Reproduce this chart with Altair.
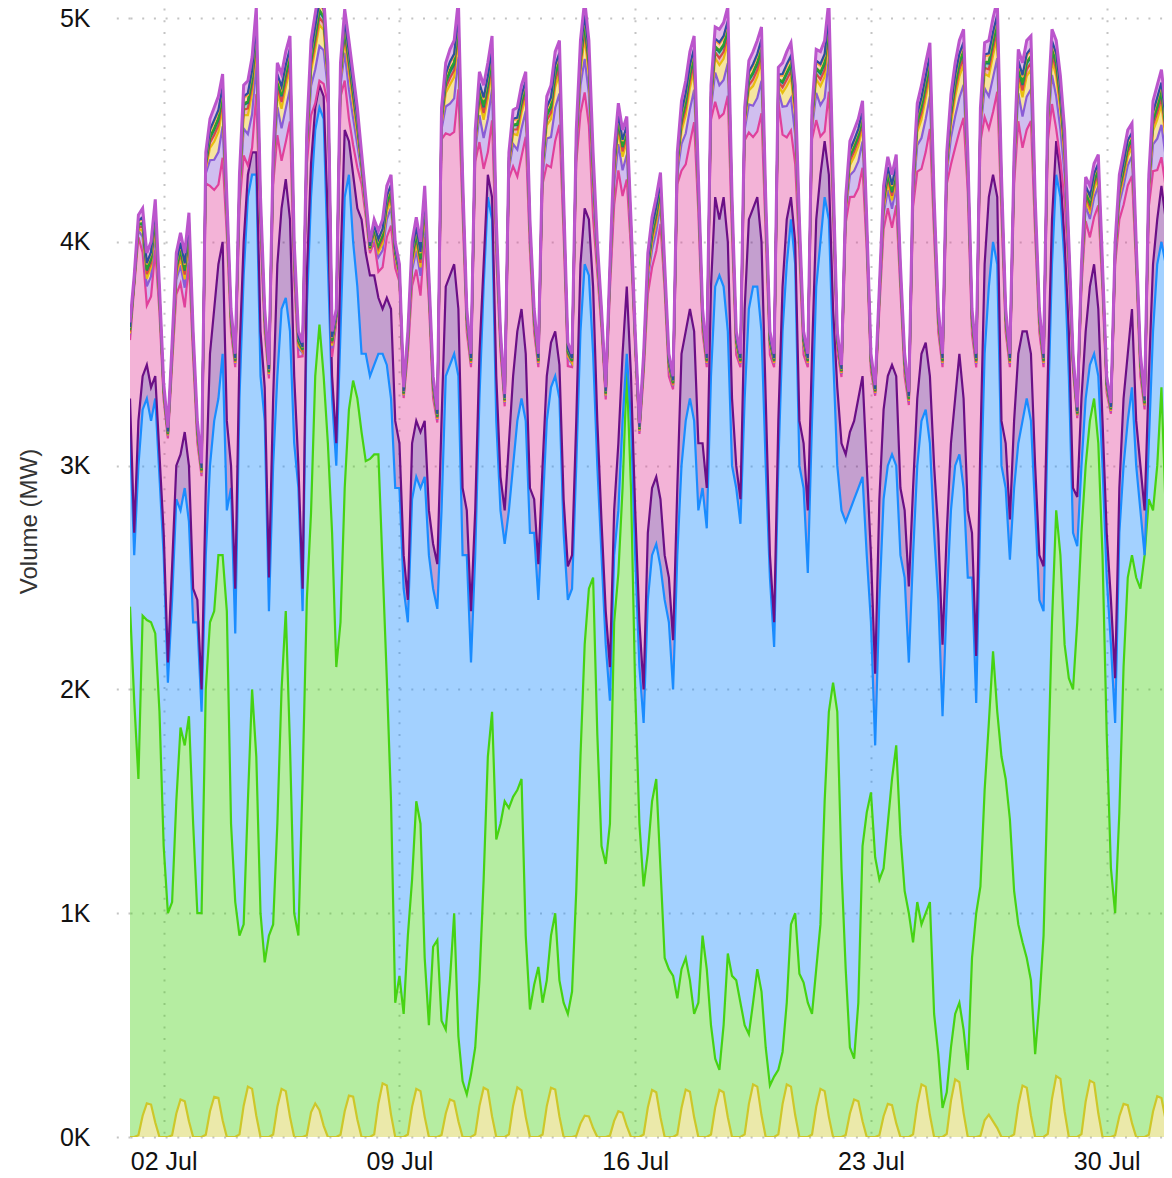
import altair as alt
import pandas as pd
import numpy as np

# Readings every 3 hours (00,03,06,09,12,15,18,21 h), 1-31 July.
# Cumulative levels (thousand MW) of the stack boundaries.
top_k = [
    3.64, 3.85, 4.12, 4.15, 3.95, 4.00, 4.19, 3.80,
    3.37, 3.17, 3.55, 3.95, 4.04, 3.95, 4.13, 3.60,
    3.20, 3.01, 4.40, 4.55, 4.60, 4.65, 4.75, 4.20,
    3.70, 3.50, 4.30, 4.70, 4.72, 4.70, 5.05, 4.20,
    3.70, 3.45, 4.40, 4.80, 4.75, 4.85, 4.92, 4.00,
    3.60, 3.55, 4.50, 4.90, 5.00, 5.10, 5.10, 4.80,
    3.60, 3.70, 4.80, 5.04, 4.90, 4.75, 4.60, 4.40,
    4.20, 4.00, 4.10, 4.05, 4.10, 4.25, 4.30, 4.00,
    3.90, 3.35, 3.60, 4.00, 4.11, 4.00, 4.25, 3.85,
    3.40, 3.25, 4.60, 4.80, 4.86, 4.90, 5.08, 4.30,
    3.70, 3.50, 4.50, 4.76, 4.70, 4.80, 4.92, 4.10,
    3.60, 3.32, 4.40, 4.59, 4.60, 4.70, 4.76, 4.10,
    3.70, 3.50, 4.40, 4.65, 4.70, 4.85, 4.90, 4.20,
    3.55, 3.50, 4.50, 4.90, 5.08, 4.90, 4.40, 4.00,
    3.70, 3.35, 3.90, 4.41, 4.62, 4.50, 4.56, 4.10,
    3.60, 3.19, 3.50, 3.95, 4.11, 4.20, 4.31, 3.90,
    3.50, 3.40, 4.40, 4.63, 4.72, 4.85, 4.92, 4.30,
    3.70, 3.50, 4.70, 4.96, 4.95, 4.98, 5.05, 4.20,
    3.60, 3.50, 4.60, 4.81, 4.85, 4.90, 4.96, 4.20,
    3.60, 3.50, 4.78, 4.80, 4.85, 4.89, 4.70, 4.10,
    3.60, 3.50, 4.60, 4.86, 4.85, 4.90, 5.08, 4.30,
    3.60, 3.45, 4.20, 4.45, 4.50, 4.55, 4.63, 4.10,
    3.50, 3.36, 3.80, 4.25, 4.38, 4.30, 4.39, 3.90,
    3.50, 3.33, 4.30, 4.62, 4.70, 4.80, 4.89, 4.20,
    3.70, 3.50, 4.40, 4.66, 4.80, 4.90, 4.95, 4.40,
    3.70, 3.50, 4.60, 4.89, 4.90, 5.00, 5.08, 4.30,
    3.70, 3.50, 4.40, 4.86, 4.80, 4.90, 4.92, 4.20,
    3.70, 3.50, 4.60, 4.95, 4.90, 4.74, 4.50, 4.00,
    3.50, 3.26, 3.90, 4.29, 4.25, 4.35, 4.39, 3.90,
    3.40, 3.28, 4.00, 4.30, 4.40, 4.50, 4.53, 4.00,
    3.50, 3.31, 4.30, 4.63, 4.70, 4.77, 4.60, 4.30,
]
purple_k = [
    3.30, 2.70, 3.20, 3.40, 3.45, 3.35, 3.40, 3.05,
    2.70, 2.12, 2.55, 3.00, 3.05, 3.15, 3.00, 2.45,
    2.40, 2.00, 2.90, 3.50, 3.70, 3.90, 4.00, 3.20,
    3.00, 2.45, 3.50, 4.00, 4.30, 4.40, 4.40, 3.60,
    3.35, 2.50, 3.30, 3.90, 4.15, 4.28, 4.10, 3.40,
    3.00, 2.45, 3.85, 4.35, 4.60, 4.70, 4.65, 4.10,
    3.40, 3.10, 3.90, 4.50, 4.45, 4.30, 4.15, 4.10,
    3.95, 3.85, 3.85, 3.75, 3.70, 3.75, 3.70, 3.20,
    3.10, 2.60, 2.40, 3.10, 3.20, 3.15, 3.20, 2.80,
    2.65, 2.56, 3.20, 3.80, 3.85, 3.90, 3.70, 2.90,
    2.80, 2.35, 2.80, 3.50, 3.90, 4.30, 4.20, 3.40,
    2.95, 2.80, 3.10, 3.40, 3.60, 3.70, 3.50, 2.90,
    2.85, 2.56, 3.00, 3.40, 3.55, 3.60, 3.45, 2.85,
    2.55, 2.60, 3.20, 3.90, 4.15, 4.10, 3.80, 3.20,
    2.75, 2.35, 2.10, 2.80, 3.10, 3.50, 3.80, 3.40,
    2.80, 2.30, 2.00, 2.70, 2.90, 2.95, 2.85, 2.60,
    2.50, 2.22, 2.90, 3.50, 3.60, 3.70, 3.60, 3.10,
    3.10, 2.90, 3.80, 4.20, 4.10, 4.20, 4.00, 3.30,
    3.00, 2.85, 3.70, 4.10, 4.15, 4.20, 4.00, 3.30,
    2.60, 2.30, 3.20, 3.80, 4.10, 4.20, 4.00, 3.20,
    3.10, 2.80, 3.50, 4.10, 4.30, 4.45, 4.30, 3.70,
    3.35, 3.10, 3.05, 3.15, 3.20, 3.30, 3.40, 3.00,
    2.60, 2.07, 2.85, 3.25, 3.40, 3.45, 3.40, 2.90,
    2.80, 2.46, 2.90, 3.30, 3.50, 3.55, 3.40, 3.00,
    2.70, 2.20, 2.70, 3.10, 3.30, 3.50, 3.30, 2.80,
    2.70, 2.15, 3.10, 3.90, 4.20, 4.30, 4.20, 3.20,
    3.10, 2.76, 3.20, 3.50, 3.60, 3.60, 3.50, 3.00,
    2.60, 2.55, 3.40, 4.10, 4.45, 4.30, 4.00, 3.60,
    2.90, 2.86, 3.30, 3.60, 3.80, 3.90, 3.70, 3.20,
    2.70, 2.40, 2.05, 2.90, 3.30, 3.50, 3.70, 3.20,
    3.00, 2.80, 3.40, 3.90, 4.10, 4.25, 4.10, 3.80,
]
blue_k = [
    3.15, 2.60, 3.00, 3.25, 3.30, 3.20, 3.30, 2.95,
    2.60, 2.03, 2.40, 2.85, 2.80, 2.90, 2.75, 2.30,
    2.30, 1.90, 2.60, 3.00, 3.20, 3.30, 3.50, 2.80,
    2.90, 2.25, 3.30, 3.85, 4.20, 4.30, 4.30, 3.40,
    3.20, 2.35, 3.00, 3.40, 3.70, 3.75, 3.60, 3.10,
    2.90, 2.35, 3.70, 4.20, 4.50, 4.60, 4.55, 3.90,
    3.30, 3.00, 3.60, 4.20, 4.30, 4.00, 3.80, 3.50,
    3.50, 3.40, 3.45, 3.50, 3.50, 3.45, 3.30, 2.90,
    2.90, 2.45, 2.30, 2.85, 2.95, 2.90, 2.95, 2.60,
    2.45, 2.36, 2.80, 3.40, 3.45, 3.50, 3.40, 2.60,
    2.60, 2.12, 2.60, 3.30, 3.80, 4.20, 4.10, 3.20,
    2.80, 2.65, 2.80, 3.00, 3.20, 3.30, 3.20, 2.70,
    2.70, 2.40, 2.80, 3.20, 3.35, 3.40, 3.30, 2.70,
    2.40, 2.45, 3.00, 3.60, 3.90, 3.85, 3.50, 3.00,
    2.60, 2.20, 1.95, 2.60, 2.80, 3.20, 3.50, 3.20,
    2.60, 2.10, 1.85, 2.40, 2.60, 2.65, 2.55, 2.40,
    2.30, 2.00, 2.60, 3.00, 3.20, 3.30, 3.20, 2.80,
    2.90, 2.72, 3.40, 3.80, 3.85, 3.80, 3.60, 3.00,
    2.90, 2.74, 3.30, 3.70, 3.80, 3.80, 3.60, 3.00,
    2.50, 2.19, 3.00, 3.60, 3.90, 4.10, 3.90, 3.00,
    2.90, 2.52, 3.20, 3.80, 4.00, 4.20, 4.10, 3.50,
    3.00, 2.80, 2.75, 2.80, 2.85, 2.90, 2.95, 2.60,
    2.30, 1.75, 2.40, 2.85, 3.00, 3.05, 3.00, 2.60,
    2.50, 2.12, 2.60, 3.00, 3.20, 3.25, 3.10, 2.70,
    2.40, 1.88, 2.40, 2.80, 3.00, 3.05, 2.90, 2.50,
    2.50, 1.94, 2.80, 3.50, 3.80, 4.00, 3.90, 3.00,
    2.90, 2.58, 2.90, 3.10, 3.20, 3.30, 3.20, 2.80,
    2.40, 2.35, 3.20, 3.90, 4.30, 4.20, 3.90, 3.40,
    2.70, 2.64, 3.00, 3.30, 3.45, 3.50, 3.40, 3.00,
    2.50, 2.20, 1.85, 2.70, 3.00, 3.20, 3.35, 3.00,
    2.80, 2.59, 3.10, 3.60, 3.90, 4.00, 3.90, 3.60,
]
wind_k = [
    2.37, 1.95, 1.60, 2.33, 2.31, 2.30, 2.25, 1.90,
    1.30, 1.00, 1.05, 1.50, 1.83, 1.75, 1.88, 1.40,
    1.00, 1.00, 2.00, 2.30, 2.35, 2.60, 2.60, 2.35,
    1.40, 1.05, 0.90, 0.95, 1.50, 2.00, 1.70, 1.00,
    0.78, 0.90, 0.95, 1.40, 2.00, 2.35, 1.75, 1.00,
    0.90, 1.60, 2.40, 2.79, 3.40, 3.63, 3.40, 3.10,
    2.70, 2.10, 2.30, 2.90, 3.25, 3.38, 3.30, 3.15,
    3.02, 3.03, 3.05, 3.05, 2.55, 2.05, 1.50, 0.60,
    0.72, 0.55, 0.90, 1.15, 1.50, 1.40, 0.80, 0.50,
    0.85, 0.88, 0.52, 0.48, 0.70, 1.00, 0.45, 0.25,
    0.19, 0.28, 0.40, 0.70, 1.15, 1.70, 1.90, 1.33,
    1.40, 1.50, 1.47, 1.52, 1.55, 1.60, 0.90, 0.57,
    0.68, 0.76, 0.60, 0.70, 0.90, 1.00, 0.70, 0.60,
    0.55, 0.65, 1.10, 1.70, 2.20, 2.45, 2.50, 1.80,
    1.30, 1.22, 1.40, 2.30, 2.52, 2.90, 3.42, 2.90,
    2.00, 1.40, 1.12, 1.27, 1.50, 1.60, 1.20, 0.80,
    0.75, 0.72, 0.62, 0.75, 0.80, 0.70, 0.55, 0.60,
    0.90, 0.75, 0.50, 0.35, 0.30, 0.50, 0.82, 0.72,
    0.70, 0.60, 0.50, 0.46, 0.60, 0.75, 0.65, 0.40,
    0.23, 0.27, 0.30, 0.38, 0.60, 0.95, 1.00, 0.73,
    0.69, 0.60, 0.55, 0.75, 0.95, 1.50, 1.90, 2.03,
    1.90, 1.20, 0.75, 0.40, 0.35, 0.60, 1.30, 1.45,
    1.54, 1.25, 1.15, 1.20, 1.40, 1.60, 1.75, 1.35,
    1.10, 1.00, 0.87, 1.05, 0.95, 1.00, 1.05, 0.55,
    0.37, 0.13, 0.20, 0.40, 0.55, 0.60, 0.48, 0.30,
    0.80, 1.00, 1.12, 1.55, 1.85, 2.17, 1.90, 1.70,
    1.60, 1.42, 1.10, 0.95, 0.87, 0.80, 0.70, 0.37,
    0.60, 0.90, 1.60, 2.30, 2.80, 2.60, 2.20, 2.05,
    2.00, 2.30, 2.70, 3.00, 3.20, 3.30, 3.10, 2.60,
    1.80, 1.20, 1.00, 1.45, 2.10, 2.50, 2.60, 2.50,
    2.45, 2.60, 2.85, 2.80, 3.00, 3.35, 2.80, 1.90,
]
# Solar output (MW)
solar_mw = [
    0, 0, 8, 95, 150, 145, 65, 0,
    0, 0, 8, 105, 168, 160, 70, 0,
    0, 0, 10, 115, 180, 175, 75, 0,
    0, 0, 12, 140, 225, 215, 95, 0,
    0, 0, 11, 135, 215, 205, 90, 0,
    0, 0, 8, 110, 150, 120, 50, 0,
    0, 0, 10, 115, 185, 180, 78, 0,
    0, 0, 12, 150, 240, 230, 100, 0,
    0, 0, 11, 135, 215, 205, 90, 0,
    0, 0, 9, 105, 168, 160, 70, 0,
    0, 0, 12, 138, 220, 210, 92, 0,
    0, 0, 12, 140, 222, 208, 90, 0,
    0, 0, 11, 138, 220, 212, 92, 0,
    0, 0, 5, 60, 95, 92, 40, 0,
    0, 0, 6, 72, 115, 108, 48, 0,
    0, 0, 11, 132, 210, 200, 88, 0,
    0, 0, 11, 130, 212, 202, 88, 0,
    0, 0, 11, 132, 210, 200, 88, 0,
    0, 0, 12, 147, 235, 225, 98, 0,
    0, 0, 12, 147, 235, 225, 98, 0,
    0, 0, 11, 135, 215, 205, 90, 0,
    0, 0, 9, 105, 168, 160, 70, 0,
    0, 0, 8, 93, 148, 142, 62, 0,
    0, 0, 12, 147, 235, 225, 98, 0,
    0, 0, 14, 162, 258, 245, 108, 0,
    0, 0, 5, 75, 100, 70, 40, 0,
    0, 0, 12, 144, 230, 220, 96, 0,
    0, 0, 14, 171, 272, 260, 114, 0,
    0, 0, 13, 159, 252, 242, 106, 0,
    0, 0, 8, 93, 148, 142, 62, 0,
    0, 0, 10, 114, 182, 174, 76, 0,
]
# Thin layers near the top of the stack (MW)
lpurple_mw = [
    25, 10, 30, 70, 85, 90, 85, 40,   22, 10, 28, 65, 80, 88, 82, 38,
    30, 12, 45, 115, 135, 145, 140, 60,   35, 15, 45, 120, 140, 150, 140, 60,
    35, 15, 48, 125, 145, 150, 145, 58,   38, 15, 50, 130, 150, 155, 150, 65,
    38, 18, 50, 125, 130, 120, 100, 50,   30, 12, 30, 65, 75, 80, 80, 40,
    25, 10, 28, 70, 85, 88, 85, 40,   30, 12, 45, 120, 140, 150, 145, 60,
    35, 15, 45, 120, 138, 148, 140, 60,   30, 15, 40, 100, 120, 125, 115, 50,
    35, 15, 45, 118, 135, 148, 140, 58,   35, 15, 48, 125, 150, 140, 110, 50,
    30, 14, 35, 95, 118, 115, 110, 48,   25, 10, 25, 65, 80, 88, 85, 40,
    32, 14, 45, 120, 138, 150, 145, 60,   35, 15, 50, 130, 145, 150, 145, 60,
    35, 15, 48, 125, 140, 150, 145, 60,   35, 15, 50, 125, 140, 145, 130, 55,
    35, 15, 45, 122, 140, 150, 150, 62,   30, 14, 38, 98, 115, 120, 118, 50,
    25, 10, 28, 68, 82, 85, 85, 40,   32, 14, 45, 118, 138, 148, 145, 60,
    35, 15, 45, 120, 140, 150, 148, 62,   38, 15, 48, 128, 145, 155, 150, 62,
    35, 15, 45, 125, 140, 148, 142, 58,   35, 15, 48, 130, 145, 138, 120, 50,
    25, 10, 28, 70, 82, 88, 85, 40,   22, 10, 30, 72, 85, 90, 88, 40,
    32, 14, 45, 120, 140, 145, 135, 60,
]
yellow_mw = [
    5, 3, 10, 25, 35, 40, 35, 12,   5, 3, 10, 22, 32, 38, 35, 12,
    8, 4, 18, 55, 80, 90, 85, 25,   10, 4, 20, 60, 85, 95, 85, 25,
    10, 4, 20, 62, 88, 95, 88, 25,   12, 5, 22, 65, 90, 95, 90, 30,
    12, 5, 22, 60, 75, 65, 50, 20,   6, 3, 10, 22, 30, 35, 35, 12,
    5, 3, 10, 25, 35, 38, 35, 12,   8, 4, 20, 60, 85, 95, 90, 25,
    10, 4, 20, 60, 82, 92, 88, 25,   8, 4, 15, 45, 65, 70, 60, 20,
    10, 4, 20, 58, 80, 92, 88, 25,   10, 4, 22, 62, 95, 85, 60, 20,
    8, 4, 14, 42, 62, 60, 58, 18,   5, 3, 9, 22, 32, 38, 36, 12,
    9, 4, 20, 58, 82, 95, 90, 25,   10, 4, 22, 65, 90, 95, 92, 25,
    10, 4, 22, 62, 88, 95, 90, 25,   10, 4, 22, 62, 88, 90, 80, 22,
    10, 4, 20, 60, 85, 95, 95, 28,   8, 4, 15, 44, 62, 68, 64, 20,
    5, 3, 10, 24, 34, 38, 36, 12,   9, 4, 20, 58, 82, 92, 90, 25,
    10, 4, 20, 60, 85, 95, 92, 28,   12, 5, 22, 65, 90, 98, 95, 28,
    10, 4, 20, 62, 86, 92, 88, 25,   10, 4, 22, 65, 90, 85, 70, 20,
    5, 3, 10, 25, 34, 38, 36, 12,   5, 3, 11, 26, 36, 40, 38, 12,
    9, 4, 20, 60, 85, 90, 80, 25,
]
red_mw = [
    8, 4, 10, 18, 20, 20, 20, 10,   8, 4, 10, 17, 20, 21, 20, 10,
    10, 5, 14, 24, 30, 30, 30, 15,   10, 5, 15, 25, 30, 31, 30, 15,
    10, 5, 15, 26, 30, 30, 30, 14,   11, 5, 16, 26, 31, 32, 30, 16,
    11, 5, 15, 25, 28, 26, 22, 12,   9, 4, 10, 17, 19, 20, 20, 10,
    8, 4, 10, 18, 20, 20, 20, 10,   10, 5, 15, 25, 30, 31, 31, 15,
    10, 5, 15, 25, 30, 30, 30, 15,   8, 5, 12, 20, 25, 25, 25, 12,
    10, 5, 15, 24, 29, 30, 30, 15,   10, 5, 15, 26, 32, 30, 25, 12,
    8, 5, 11, 20, 24, 24, 24, 12,   8, 4, 9, 17, 20, 20, 20, 10,
    10, 5, 15, 25, 30, 31, 30, 15,   10, 5, 16, 26, 31, 31, 31, 15,
    10, 5, 15, 25, 30, 31, 30, 15,   10, 5, 16, 25, 30, 30, 28, 14,
    10, 5, 15, 25, 30, 31, 31, 16,   8, 5, 12, 20, 24, 25, 25, 12,
    8, 4, 10, 18, 20, 20, 20, 10,   10, 5, 15, 24, 30, 30, 30, 15,
    10, 5, 15, 25, 30, 31, 31, 16,   11, 5, 16, 26, 31, 32, 31, 16,
    10, 5, 15, 25, 30, 30, 30, 15,   10, 5, 16, 26, 31, 30, 26, 13,
    8, 4, 10, 18, 20, 20, 20, 10,   8, 4, 10, 18, 20, 21, 20, 10,
    10, 5, 15, 25, 30, 30, 28, 15,
]
teal_mw = [
    6, 4, 8, 14, 16, 16, 16, 8,   6, 4, 8, 13, 16, 17, 16, 8,
    8, 5, 10, 19, 24, 25, 25, 12,   8, 5, 10, 20, 25, 25, 25, 12,
    8, 5, 10, 21, 25, 25, 25, 12,   9, 5, 11, 21, 26, 26, 25, 13,
    9, 5, 10, 20, 23, 21, 18, 10,   7, 4, 8, 13, 15, 16, 16, 8,
    6, 4, 8, 14, 16, 16, 16, 8,   8, 5, 10, 20, 25, 26, 26, 12,
    8, 5, 10, 20, 25, 25, 25, 12,   7, 4, 9, 18, 20, 20, 20, 10,
    8, 5, 10, 19, 24, 25, 25, 12,   8, 5, 10, 21, 27, 25, 20, 10,
    7, 4, 9, 18, 19, 19, 19, 10,   6, 4, 7, 13, 16, 16, 16, 8,
    8, 5, 10, 20, 25, 26, 25, 12,   8, 5, 11, 21, 26, 26, 26, 12,
    8, 5, 10, 20, 25, 26, 25, 12,   8, 5, 11, 20, 25, 25, 23, 11,
    8, 5, 10, 20, 25, 26, 26, 13,   7, 4, 9, 18, 19, 20, 20, 10,
    6, 4, 8, 14, 16, 16, 16, 8,   8, 5, 10, 19, 25, 25, 25, 12,
    8, 5, 10, 20, 25, 26, 26, 13,   9, 5, 11, 21, 26, 27, 26, 13,
    8, 5, 10, 20, 25, 25, 25, 12,   8, 5, 11, 21, 26, 25, 21, 10,
    6, 4, 8, 14, 16, 16, 16, 8,   6, 4, 8, 14, 16, 17, 16, 8,
    8, 5, 10, 20, 25, 25, 23, 12,
]
green_mw = [
    1, 1, 2, 4, 5, 5, 4, 2,   1, 1, 2, 4, 5, 5, 4, 2,
    2, 1, 3, 6, 8, 8, 6, 3,   2, 1, 3, 6, 8, 8, 6, 3,
    2, 1, 3, 6, 8, 8, 6, 3,   2, 1, 3, 6, 8, 9, 6, 3,
    2, 1, 3, 6, 7, 6, 5, 2,   1, 1, 2, 4, 5, 5, 4, 2,
    1, 1, 2, 4, 5, 5, 4, 2,   2, 1, 3, 7, 12, 10, 6, 3,
    2, 1, 3, 6, 8, 8, 6, 3,   1, 1, 2, 4, 5, 5, 4, 2,
    2, 1, 3, 6, 8, 8, 6, 3,   2, 1, 3, 6, 8, 8, 5, 2,
    1, 1, 2, 4, 5, 5, 4, 2,   1, 1, 2, 4, 5, 5, 4, 2,
    2, 1, 3, 6, 8, 8, 6, 3,   2, 1, 3, 6, 8, 8, 6, 3,
    2, 1, 3, 6, 8, 8, 6, 3,   2, 1, 3, 6, 8, 8, 6, 3,
    2, 1, 3, 6, 8, 8, 6, 3,   1, 1, 2, 4, 5, 5, 4, 2,
    1, 1, 2, 4, 5, 5, 4, 2,   2, 1, 3, 6, 8, 8, 6, 3,
    2, 1, 3, 6, 8, 8, 6, 3,   2, 1, 3, 6, 8, 8, 6, 3,
    2, 1, 3, 6, 8, 8, 6, 3,   2, 1, 3, 6, 8, 8, 5, 2,
    1, 1, 2, 4, 5, 5, 4, 2,   1, 1, 2, 4, 5, 5, 4, 2,
    2, 1, 3, 6, 8, 8, 6, 3,
]
orange_mw = [
    10, 6, 12, 20, 22, 22, 20, 12,   10, 6, 12, 20, 22, 22, 20, 12,
    12, 8, 15, 25, 28, 28, 25, 15,   12, 8, 15, 25, 28, 29, 26, 15,
    12, 8, 15, 25, 28, 28, 25, 15,   13, 8, 16, 26, 29, 30, 27, 16,
    13, 8, 15, 25, 26, 24, 22, 14,   10, 6, 12, 19, 21, 22, 21, 12,
    10, 6, 12, 20, 22, 22, 20, 12,   12, 8, 15, 25, 28, 29, 27, 15,
    12, 8, 15, 25, 28, 28, 25, 15,   10, 6, 12, 20, 22, 22, 20, 12,
    12, 8, 15, 25, 28, 28, 25, 15,   12, 8, 15, 26, 30, 28, 22, 13,
    10, 6, 12, 20, 22, 22, 20, 12,   10, 6, 12, 19, 22, 22, 21, 12,
    12, 8, 15, 25, 28, 29, 26, 15,   12, 8, 16, 26, 29, 29, 27, 15,
    12, 8, 15, 25, 28, 29, 26, 15,   12, 8, 16, 25, 28, 28, 24, 14,
    12, 8, 15, 25, 28, 29, 28, 16,   10, 6, 12, 20, 22, 22, 20, 12,
    10, 6, 12, 20, 22, 22, 20, 12,   12, 8, 15, 25, 28, 28, 26, 15,
    12, 8, 15, 25, 28, 29, 27, 16,   13, 8, 16, 26, 29, 30, 28, 16,
    12, 8, 15, 25, 28, 28, 26, 15,   12, 8, 16, 26, 29, 27, 23, 13,
    10, 6, 12, 20, 22, 22, 20, 12,   10, 6, 12, 20, 22, 23, 21, 12,
    12, 8, 15, 25, 28, 28, 25, 15,
]
navy_mw = [
    2, 2, 3, 6, 6, 6, 6, 3,   2, 2, 3, 6, 6, 6, 6, 3,
    3, 2, 4, 8, 8, 8, 8, 4,   3, 2, 4, 8, 8, 8, 8, 4,
    3, 2, 4, 8, 8, 8, 8, 4,   3, 2, 4, 8, 8, 8, 8, 4,
    3, 2, 4, 8, 8, 7, 6, 3,   2, 2, 3, 6, 6, 6, 6, 3,
    2, 2, 3, 6, 6, 6, 6, 3,   3, 2, 4, 8, 8, 8, 8, 4,
    3, 2, 4, 8, 8, 8, 8, 4,   2, 2, 3, 6, 6, 6, 6, 3,
    3, 2, 4, 8, 8, 8, 8, 4,   3, 2, 4, 8, 8, 8, 7, 3,
    2, 2, 3, 6, 6, 6, 6, 3,   2, 2, 3, 6, 6, 6, 6, 3,
    3, 2, 4, 8, 8, 8, 8, 4,   3, 2, 4, 8, 8, 8, 8, 4,
    3, 2, 4, 8, 8, 8, 8, 4,   3, 2, 4, 8, 8, 8, 8, 4,
    3, 2, 4, 8, 8, 8, 8, 4,   2, 2, 3, 6, 6, 6, 6, 3,
    2, 2, 3, 6, 6, 6, 6, 3,   3, 2, 4, 8, 8, 8, 8, 4,
    3, 2, 4, 8, 8, 8, 8, 4,   3, 2, 4, 8, 8, 8, 8, 4,
    3, 2, 4, 8, 8, 8, 8, 4,   3, 2, 4, 8, 8, 8, 7, 3,
    2, 2, 3, 6, 6, 6, 6, 3,   2, 2, 3, 6, 6, 6, 6, 3,
    3, 2, 4, 8, 8, 8, 8, 4,
]
violet_mw = [
    22, 18, 25, 40, 45, 45, 40, 30,   22, 18, 25, 38, 44, 46, 40, 30,
    25, 20, 30, 48, 55, 60, 55, 35,   25, 20, 30, 50, 55, 60, 70, 35,
    25, 20, 30, 50, 56, 60, 55, 35,   26, 20, 32, 52, 58, 62, 58, 36,
    26, 20, 32, 50, 52, 48, 45, 30,   22, 18, 25, 38, 42, 45, 45, 30,
    22, 18, 25, 40, 45, 45, 40, 30,   25, 20, 30, 50, 55, 60, 65, 35,
    25, 20, 30, 50, 55, 60, 55, 35,   22, 18, 25, 40, 45, 45, 40, 30,
    25, 20, 30, 48, 55, 60, 55, 35,   25, 20, 30, 52, 62, 55, 45, 30,
    22, 18, 25, 40, 45, 44, 40, 30,   22, 18, 24, 38, 44, 46, 42, 30,
    25, 20, 30, 50, 55, 60, 55, 35,   25, 20, 32, 52, 58, 60, 62, 35,
    25, 20, 30, 50, 55, 60, 55, 35,   25, 20, 32, 50, 56, 58, 52, 32,
    25, 20, 30, 50, 55, 60, 65, 36,   22, 18, 25, 40, 45, 45, 42, 30,
    22, 18, 25, 40, 45, 45, 40, 30,   25, 20, 30, 48, 55, 60, 55, 35,
    25, 20, 30, 50, 55, 60, 58, 36,   26, 20, 32, 52, 58, 62, 65, 36,
    25, 20, 30, 50, 55, 60, 55, 35,   25, 20, 32, 52, 58, 55, 48, 30,
    22, 18, 25, 40, 45, 45, 40, 30,   22, 18, 25, 40, 45, 46, 42, 30,
    25, 20, 30, 50, 55, 58, 52, 35,
]

series_names = ["Solar", "Wind", "Source 3", "Source 4", "Source 5", "Source 6",
                "Source 7", "Source 8", "Source 9", "Source 10", "Source 11",
                "Source 12", "Source 13"]
series_colors = ["#cdc72a", "#46d313", "#1a8cff", "#6b0f86", "#e0409c", "#8a5cd6",
                 "#e8bd10", "#d94848", "#177e72", "#2ca02c", "#ff9f3f", "#2b4f9e",
                 "#bb55cc"]

# ---- build the stacked layers -------------------------------------------
times = pd.date_range("2023-07-01 00:00", periods=len(top_k), freq="3h")
S = np.array(solar_mw, dtype=float)
Wt = np.maximum(np.array(wind_k) * 1000, S)
Bt = np.maximum(np.array(blue_k) * 1000, Wt)
Pt = np.maximum(np.array(purple_k) * 1000, Bt)
thin = [np.array(a, dtype=float) for a in
        (lpurple_mw, yellow_mw, red_mw, teal_mw, green_mw, orange_mw, navy_mw, violet_mw)]
thin_sum = sum(thin)
magenta = np.maximum(np.array(top_k) * 1000 - thin_sum - Pt, 20)

values = [S, Wt - S, Bt - Wt, Pt - Bt, magenta] + thin

rows = []
base_level = np.zeros(len(times))
for order, (name, vals) in enumerate(zip(series_names, values)):
    hi = base_level + vals
    for t, lo_v, hi_v in zip(times, base_level, hi):
        rows.append({"t": t, "series": name, "order": order, "lo": lo_v, "hi": hi_v})
    base_level = hi
df = pd.DataFrame(rows)

grid_color = "#c4c4c4"
x_scale = alt.Scale(domain=[alt.DateTime(year=2023, month=7, date=1, hours=0),
                            alt.DateTime(year=2023, month=7, date=31, hours=16, minutes=49)])
y_scale = alt.Scale(domain=[0, 5045], nice=False)
color_scale = alt.Scale(domain=series_names, range=series_colors)

x_axis = alt.Axis(
    values=[alt.DateTime(year=2023, month=7, date=d) for d in (2, 9, 16, 23, 30)],
    format="%d %b", title=None, ticks=False, domain=False, grid=True,
    gridDash=[2, 9.7], gridColor=grid_color, gridWidth=2,
    labelFontSize=25, labelFont="Liberation Sans", labelColor="#111",
    labelPadding=12,
)
y_axis = alt.Axis(
    values=[0, 1000, 2000, 3000, 4000, 5000],
    labelExpr="datum.value / 1000 + 'K'",
    title="Volume (MW)", titleFontSize=24, titleFontWeight="normal",
    titleFont="Liberation Sans", titleColor="#333",
    titleX=-101, titleY=513, titleAlign="center", titleBaseline="middle",
    domain=False, grid=True, gridDash=[2, 9.7], gridColor=grid_color, gridWidth=2,
    tickSize=20, tickDash=[2, 9.7], tickColor=grid_color, tickWidth=2,
    labelPadding=20, labelFontSize=25, labelFont="Liberation Sans", labelColor="#111",
)

base = alt.Chart(df)
areas = base.mark_area(opacity=0.4, clip=True, interpolate="linear").encode(
    x=alt.X("t:T", scale=x_scale, axis=x_axis),
    y=alt.Y("hi:Q", scale=y_scale, axis=y_axis),
    y2="lo:Q",
    color=alt.Color("series:N", scale=color_scale, legend=None),
    order="order:Q",
)
lines = base.transform_filter(alt.datum.series != "Source 13").mark_line(
    strokeWidth=2.2, clip=True, interpolate="linear"
).encode(
    x="t:T", y="hi:Q",
    color=alt.Color("series:N", scale=color_scale, legend=None),
)
top_line = base.transform_filter(alt.datum.series == "Source 13").mark_line(
    strokeWidth=3, clip=True, interpolate="linear"
).encode(
    x="t:T", y="hi:Q",
    color=alt.Color("series:N", scale=color_scale, legend=None),
)

chart = alt.layer(areas, lines, top_line).properties(
    width=1034, height=1129,
    autosize=alt.AutoSizeParams(type="none"),
    padding={"left": 122, "top": 0, "right": 0, "bottom": 40},
).configure_view(stroke=None)

chart.save("out.html", embed_options={"renderer": "svg", "actions": False})
